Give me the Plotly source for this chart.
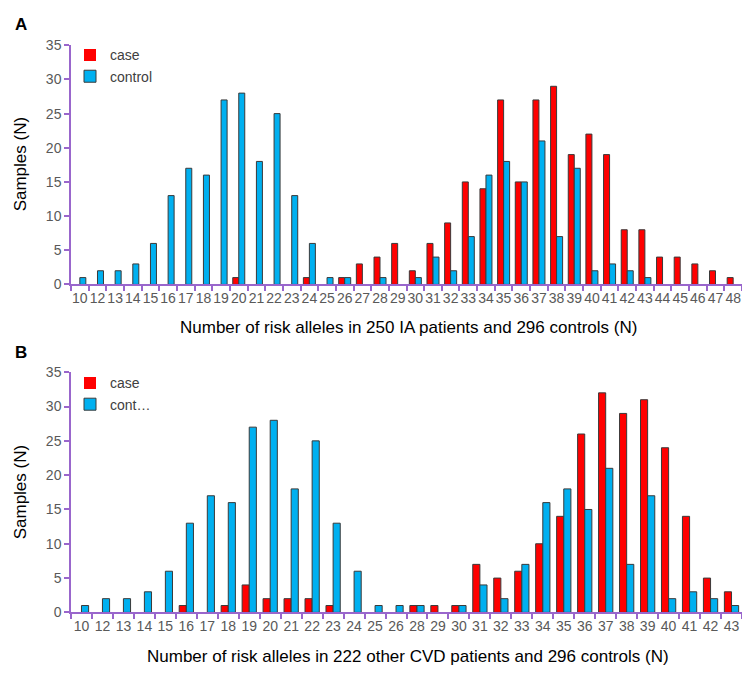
import plotly.graph_objects as go

# ---------------- Panel A data ----------------
cats_a = ["10", "12", "13", "14", "15", "16", "17", "18", "19", "20", "21", "22", "23", "24",
          "25", "26", "27", "28", "29", "30", "31", "32", "33", "34", "35", "36", "37", "38",
          "39", "40", "41", "42", "43", "44", "45", "46", "47", "48"]
case_a = [0, 0, 0, 0, 0, 0, 0, 0, 0, 1, 0, 0, 0, 1,
          0, 1, 3, 4, 6, 2, 6, 9, 15, 14, 27, 15, 27, 29,
          19, 22, 19, 8, 8, 4, 4, 3, 2, 1]
control_a = [1, 2, 2, 3, 6, 13, 17, 16, 27, 28, 18, 25, 13, 6,
             1, 1, 0, 1, 0, 1, 4, 2, 7, 16, 18, 15, 21, 7,
             17, 2, 3, 2, 1, 0, 0, 0, 0, 0]

# ---------------- Panel B data ----------------
cats_b = ["10", "12", "13", "14", "15", "16", "17", "18", "19", "20", "21", "22", "23", "24",
          "25", "26", "28", "29", "30", "31", "32", "33", "34", "35", "36", "37", "38", "39",
          "40", "41", "42", "43"]
case_b = [0, 0, 0, 0, 0, 1, 0, 1, 4, 2, 2, 2, 1, 0,
          0, 0, 1, 1, 1, 7, 5, 6, 10, 14, 26, 32, 29, 31,
          24, 14, 5, 3]
control_b = [1, 2, 2, 3, 6, 13, 17, 16, 27, 28, 18, 25, 13, 6,
             1, 1, 1, 0, 1, 4, 2, 7, 16, 18, 15, 21, 7, 17,
             2, 3, 2, 1]

title_a = "Number of risk alleles in 250 IA patients and 296 controls (N)"
title_b = "Number of risk alleles in 222 other CVD patients and 296 controls (N)"
y_title = "Samples (N)"

RED = "#FF0000"
BLUE = "#00B0F0"
EDGE = "#3a3a3a"
AXIS = "#9966CC"
TICKC = "#595959"
FONT = "Arial, Liberation Sans, sans-serif"

# the page body has an 8px margin on every side; size the figure so nothing overflows
OFF = 8
W, H = 750 - 2 * OFF, 685 - 2 * OFF


def px(x):
    return (x - OFF) / W


def py(y):
    return 1 - (y - OFF) / H


def marker(color, vals):
    # no outline on empty (zero-height) bars
    return dict(color=color, line=dict(color=EDGE, width=[1 if v else 0 for v in vals]))


fig = go.Figure()
fig.add_bar(x=cats_a, y=case_a, name="case", marker=marker(RED, case_a),
            xaxis="x", yaxis="y", legend="legend")
fig.add_bar(x=cats_a, y=control_a, name="control", marker=marker(BLUE, control_a),
            xaxis="x", yaxis="y", legend="legend")
fig.add_bar(x=cats_b, y=case_b, name="case", marker=marker(RED, case_b),
            xaxis="x2", yaxis="y2", legend="legend2")
fig.add_bar(x=cats_b, y=control_b, name="cont…", marker=marker(BLUE, control_b),
            xaxis="x2", yaxis="y2", legend="legend2")

xdom = [px(71), 1.0]
xcommon = dict(type="category", showline=True, linecolor=AXIS, linewidth=1.5, ticks="outside",
               tickcolor=AXIS, ticklen=5, tickwidth=1.5, tickson="boundaries", showgrid=False,
               tickfont=dict(family=FONT, size=14, color=TICKC), tickangle=0, domain=xdom,
               zeroline=False, fixedrange=True)
ycommon = dict(range=[0, 35], dtick=5, showline=True, linecolor=AXIS, linewidth=1.5, ticks="outside",
               tickcolor=AXIS, ticklen=5, tickwidth=1.5, showgrid=False, zeroline=False,
               tickfont=dict(family=FONT, size=14, color=TICKC), fixedrange=True)

legcommon = dict(xanchor="left", yanchor="top", bgcolor="rgba(0,0,0,0)",
                 font=dict(family=FONT, size=14, color="#404040"), tracegroupgap=0, itemwidth=30)

fig.update_layout(
    width=W, height=H, margin=dict(l=0, r=0, t=0, b=0),
    paper_bgcolor="white", plot_bgcolor="white",
    barmode="group", bargap=0.32, bargroupgap=0,
    font=dict(family=FONT),
    xaxis=dict(**xcommon, anchor="y"),
    yaxis=dict(**ycommon, domain=[py(283), py(38)], anchor="x"),
    xaxis2=dict(**xcommon, anchor="y2"),
    yaxis2=dict(**ycommon, domain=[py(619), py(373)], anchor="x2"),
    legend=dict(x=px(70), y=py(32), **legcommon),
    legend2=dict(x=px(70), y=py(368), **legcommon),
    showlegend=True,
    annotations=[
        dict(text="<b>A</b>", x=px(13), y=py(17), xref="paper", yref="paper", showarrow=False,
             xanchor="left", yanchor="middle", font=dict(family=FONT, size=17, color="black")),
        dict(text="<b>B</b>", x=px(13), y=py(353), xref="paper", yref="paper", showarrow=False,
             xanchor="left", yanchor="middle", font=dict(family=FONT, size=17, color="black")),
        dict(text=y_title, x=px(20), y=py(160), xref="paper", yref="paper", showarrow=False,
             textangle=-90, xanchor="center", yanchor="middle",
             font=dict(family=FONT, size=17, color="black")),
        dict(text=y_title, x=px(20), y=py(496), xref="paper", yref="paper", showarrow=False,
             textangle=-90, xanchor="center", yanchor="middle",
             font=dict(family=FONT, size=17, color="black")),
        dict(text=title_a, x=px(408), y=py(327), xref="paper", yref="paper", showarrow=False,
             xanchor="center", yanchor="middle", font=dict(family=FONT, size=17, color="black")),
        dict(text=title_b, x=px(408), y=py(664), xref="paper", yref="paper", showarrow=False,
             xanchor="center", yanchor="middle", font=dict(family=FONT, size=17, color="black")),
    ],
)

fig.write_html("out.html")
